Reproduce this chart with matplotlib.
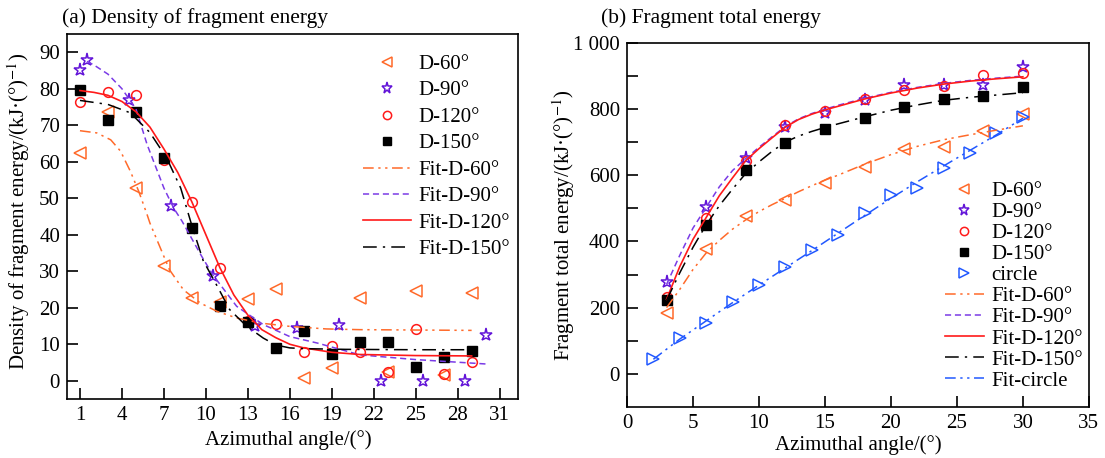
import numpy as np
import matplotlib
matplotlib.use("Agg")
import matplotlib.pyplot as plt
from matplotlib.ticker import FuncFormatter

plt.rcParams['font.family'] = ['Liberation Serif', 'DejaVu Serif']
plt.rcParams['mathtext.fontset'] = 'stix'

# ---- (a) density of fragment energy ----
x_a = [1, 3, 5, 7, 9, 11, 13, 15, 17, 19, 21, 23, 25, 27, 29]
d60_a = [62.5, 73.7, 52.9, 31.5, 22.8, 21.6, 22.4, 25.2, 0.8, 3.5, 22.6, 2.5, 24.6, 1.6, 24.1]
d120_a = [76.3, 79.0, 78.4, 60.4, 48.9, 30.9, 16.3, 15.5, 7.9, 9.4, 8.0, 2.4, 14.3, 1.9, 5.1]
d150_a = [79.6, 71.4, 73.5, 60.9, 41.8, 20.4, 16.0, 9.0, 13.5, 7.4, 10.6, 10.6, 3.7, 6.4, 8.2]
x90_a = [1, 1.5, 4.5, 7.5, 10.5, 13.5, 16.5, 19.5, 22.5, 25.5, 28.5, 30]
d90_a = [85.0, 88.0, 76.8, 48.0, 28.8, 14.9, 14.5, 15.3, 0.0, 0.0, 0.0, 12.6]

# fit curves
fx60_a = [1, 2.2, 3.2, 3.9, 4.6, 5.2, 5.8, 6.0, 6.7, 7.4, 8.4, 9.6, 10.8, 12.2, 13.9, 16, 18.6, 21, 25, 29]
fy60_a = [68.5, 67.9, 66.0, 62.9, 57.4, 51.9, 45.5, 43.2, 36.8, 30.4, 24.9, 21.3, 19.0, 17.2, 15.8, 14.9, 14.2, 14.0, 13.9, 13.8]
fx90_a = [1.5, 2, 3, 4, 5, 5.8, 7.0, 7.7, 8.3, 9.1, 9.7, 10.5, 12.2, 14.1, 16, 18, 21, 25, 30]
fy90_a = [87.5, 86.5, 84.0, 80.0, 74.5, 64.7, 52.8, 47.3, 43.7, 38.2, 34.1, 29.0, 20.4, 15.4, 12.1, 10.3, 7.1, 5.8, 4.6]
fx120_a = [1, 2, 3, 4, 5, 6, 7, 8, 9, 10, 11, 12, 13, 14, 15, 16, 17, 19, 21, 25, 29]
fy120_a = [79.5, 79.0, 78.2, 76.5, 73.7, 69.5, 63.5, 57.0, 49.0, 40.0, 31.0, 23.5, 18.0, 14.0, 11.8, 10.0, 9.0, 7.8, 7.2, 6.9, 6.8]
fx150_a = [1, 3, 4.6, 6, 7.2, 8.2, 9, 9.8, 10.8, 11.7, 12.9, 14.1, 15, 16, 17, 20, 25, 29]
fy150_a = [76.8, 75.7, 73.4, 68.0, 61.0, 52.8, 42.5, 33.0, 26.0, 19.5, 15.0, 11.7, 9.8, 9.0, 8.8, 8.6, 8.5, 8.5]

# ---- (b) fragment total energy ----
x_b = [3, 6, 9, 12, 15, 18, 21, 24, 27, 30]
d60_b = [183, 376, 477, 525, 576, 626, 678, 684, 734, 785]
d90_b = [277, 505, 651, 746, 789, 827, 872, 872, 872, 927]
d120_b = [232, 470, 644, 752, 794, 830, 857, 869, 902, 909]
d150_b = [223, 450, 616, 696, 740, 774, 807, 830, 839, 867]
x_circ = [2, 4, 6, 8, 10, 12, 14, 16, 18, 20, 22, 24, 26, 28, 30]
circ_b = [44, 108, 155, 218, 268, 322, 374, 419, 487, 540, 560, 621, 666, 726, 775]

fx_b = [3, 4, 5, 6, 7, 8, 9, 10, 11, 12, 13, 14, 15, 16, 18, 20, 22, 24, 26, 28, 30]
fy60_b = [200, 255, 315, 365, 403, 437, 465, 490, 511, 530, 550, 568, 585, 600, 633, 662, 687, 707, 722, 736, 749]
fy90_b = [270, 358, 440, 503, 565, 614, 650, 684, 716, 747, 770, 786, 799, 811, 832, 850, 865, 877, 886, 893, 899]
fy120_b = [225, 324, 406, 472, 538, 592, 644, 680, 713, 745, 768, 784, 797, 808, 830, 848, 863, 875, 884, 891, 897]
fy150_b = [222, 305, 382, 450, 508, 558, 605, 640, 672, 700, 718, 732, 744, 755, 776, 796, 812, 826, 835, 842, 849]
fxc_b = [2, 4, 6, 8, 10, 12, 14, 16, 18, 20, 22, 24, 26, 28, 30]
fyc_b = [44, 105, 160, 215, 268, 320, 372, 425, 478, 530, 580, 628, 675, 722, 772]

c60 = '#FF6A2A'
c90 = '#6214D8'
c90l = '#7A3BE6'
c120 = '#FF1A1A'
c150 = '#000000'
ccir = '#2158FF'

ls60 = (0, (7, 3, 1.5, 3, 1.5, 3))
ls90 = (0, (4, 2.5))
ls150 = (0, (9, 4, 1.5, 4))
lscir = (0, (7, 3, 1.5, 3, 1.5, 3))

fs = 15

fig = plt.figure(figsize=(11.05, 4.58), dpi=100)
ax1 = fig.add_axes([0.0606, 0.1288, 0.408, 0.797])
ax2 = fig.add_axes([0.5674, 0.1114, 0.418, 0.7954])

ms = 7
mtri = 9
mstar = 9.5
ax1.plot(x_a, d60_a, ls='none', marker='<', ms=mtri, mfc='none', mec=c60, mew=1.1, label='D-60°')
ax1.plot(x90_a, d90_a, ls='none', marker='*', ms=mstar, mfc='none', mec=c90, mew=1.1, label='D-90°')
ax1.plot(x_a, d120_a, ls='none', marker='o', ms=ms, mfc='none', mec=c120, mew=1.1, label='D-120°')
ax1.plot(x_a, d150_a, ls='none', marker='s', ms=ms - 0.5, mfc=c150, mec=c150, label='D-150°')
ax1.plot(fx60_a, fy60_a, color=c60, ls=ls60, lw=1.1, label='Fit-D-60°')
ax1.plot(fx90_a, fy90_a, color=c90l, ls=ls90, lw=1.1, label='Fit-D-90°')
ax1.plot(fx120_a, fy120_a, color=c120, ls='-', lw=1.2, label='Fit-D-120°')
ax1.plot(fx150_a, fy150_a, color=c150, ls=ls150, lw=1.1, label='Fit-D-150°')

ax1.set_xlim(0.07, 32.3)
ax1.set_ylim(-5, 95)
ax1.set_xticks(range(1, 32, 3))
ax1.set_yticks(range(0, 91, 10))
ax1.set_xlabel('Azimuthal angle/(°)', fontsize=fs)
ax1.set_ylabel('Density of fragment energy/(kJ·(°)$^{-1}$)', fontsize=fs)
ax1.xaxis.set_label_coords(0.49, -0.085)
ax1.yaxis.set_label_coords(-0.077, 0.515)
ax1.legend(loc='upper left', bbox_to_anchor=(0.656, 0.944), frameon=False, fontsize=fs,
           handlelength=2.33, labelspacing=0.33, borderaxespad=0, borderpad=0,
           handletextpad=0.33, markerscale=0.85)

ax2.plot(x_b, d60_b, ls='none', marker='<', ms=mtri, mfc='none', mec=c60, mew=1.1, label='D-60°')
ax2.plot(x_b, d90_b, ls='none', marker='*', ms=mstar, mfc='none', mec=c90, mew=1.1, label='D-90°')
ax2.plot(x_b, d120_b, ls='none', marker='o', ms=ms, mfc='none', mec=c120, mew=1.1, label='D-120°')
ax2.plot(x_b, d150_b, ls='none', marker='s', ms=ms - 0.5, mfc=c150, mec=c150, label='D-150°')
ax2.plot(x_circ, circ_b, ls='none', marker='>', ms=mtri, mfc='none', mec=ccir, mew=1.1, label='circle')
ax2.plot(fx_b, fy60_b, color=c60, ls=ls60, lw=1.1, label='Fit-D-60°')
ax2.plot(fx_b, fy90_b, color=c90l, ls=ls90, lw=1.1, label='Fit-D-90°')
ax2.plot(fx_b, fy120_b, color=c120, ls='-', lw=1.2, label='Fit-D-120°')
ax2.plot(fx_b, fy150_b, color=c150, ls=ls150, lw=1.1, label='Fit-D-150°')
ax2.plot(fxc_b, fyc_b, color=ccir, ls=lscir, lw=1.1, label='Fit-circle')

ax2.set_xlim(0, 35)
ax2.set_ylim(-100, 1000)
ax2.set_xticks(range(0, 36, 5))
ax2.set_yticks(range(0, 1001, 100))
ax2.yaxis.set_major_formatter(FuncFormatter(
    lambda v, p: ('{:,}'.format(int(v)).replace(',', ' ') if int(v) % 200 == 0 else '')))
ax2.set_xlabel('Azimuthal angle/(°)', fontsize=fs)
ax2.set_ylabel('Fragment total energy/(kJ·(°)$^{-1}$)', fontsize=fs)
ax2.xaxis.set_label_coords(0.5, -0.077)
ax2.yaxis.set_label_coords(-0.108, 0.5)
ax2.legend(loc='lower left', bbox_to_anchor=(0.688, 0.045), frameon=False, fontsize=fs,
           handlelength=1.86, labelspacing=0.07, borderaxespad=0, borderpad=0,
           handletextpad=0.38, markerscale=0.85)

for ax in (ax1, ax2):
    ax.tick_params(direction='in', length=8, width=1.2, labelsize=fs, top=False, right=False, pad=5)
    for s in ax.spines.values():
        s.set_linewidth(1.2)

fig.text(0.056, 0.96, '(a) Density of fragment energy', fontsize=15.5, va='center', ha='left')
fig.text(0.544, 0.96, '(b) Fragment total energy', fontsize=15.5, va='center', ha='left')

fig.savefig('out.png', dpi=100)
